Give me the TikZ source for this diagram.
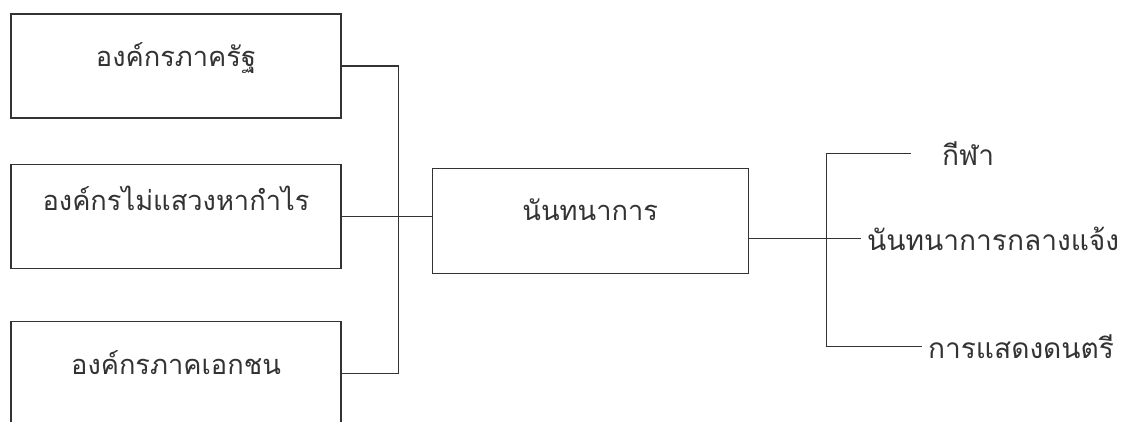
\documentclass[tikz,border=0pt]{standalone}
\usepackage{fontspec}
\newfontfamily\thaifont[Script=Thai]{Loma}
\usetikzlibrary{positioning}

\tikzset{
  orgbox/.style={draw=black!80, text=black!80, line width=0.7pt, minimum width=6.6cm,
    minimum height=2.08cm, text depth=0.45cm, font=\thaifont\fontsize{15.5}{19}\selectfont},
  kind/.style={anchor=west, text=black!80, text height=0.55cm, text depth=0.07cm,
    font=\thaifont\fontsize{16}{19}\selectfont},
  link/.style={draw=black!80, line width=0.6pt}
}

\begin{document}
\begin{tikzpicture}
    \useasboundingbox (0,0) rectangle (22.76,-8.42);
    \node[orgbox] (org1) at (3.52,-1.32) {องค์กรภาครัฐ};
    \node[orgbox, text depth=0.7cm, below=0.9cm of org1] (org2) {องค์กรไม่แสวงหากำไร};
    \node[orgbox, below=1.04cm of org2] (org3) {องค์กรภาคเอกชน};
    \node[orgbox, minimum width=6.32cm, minimum height=2.1cm,
      right=1.8cm of org2, yshift=-0.09cm] (rec) {นันทนาการ};

    \node[kind, right=2.24cm of rec.east, yshift=-0.35cm] (outdoor) {นันทนาการกลางแจ้ง};
    \node[kind] (sport) at ([shift={(1.5,1.7)}]outdoor.west) {กีฬา};
    \node[kind] (music) at ([shift={(1.22,-2.16)}]outdoor.west) {การแสดงดนตรี};

    \coordinate (busL) at ([xshift=1.14cm]org1.east);
    \coordinate (busR) at ([xshift=-0.68cm]outdoor.west);

    \draw[link] (org1.east) -- (busL) |- (org3.east);
    \draw[link] (org2.east) -- (org2.east -| rec.west);
    \draw[link] (rec.east |- outdoor.west) -- (outdoor.west);
    \draw[link] ([xshift=-0.5cm]sport.west) -| (busR) |- (music.west);
\end{tikzpicture}
\end{document}
